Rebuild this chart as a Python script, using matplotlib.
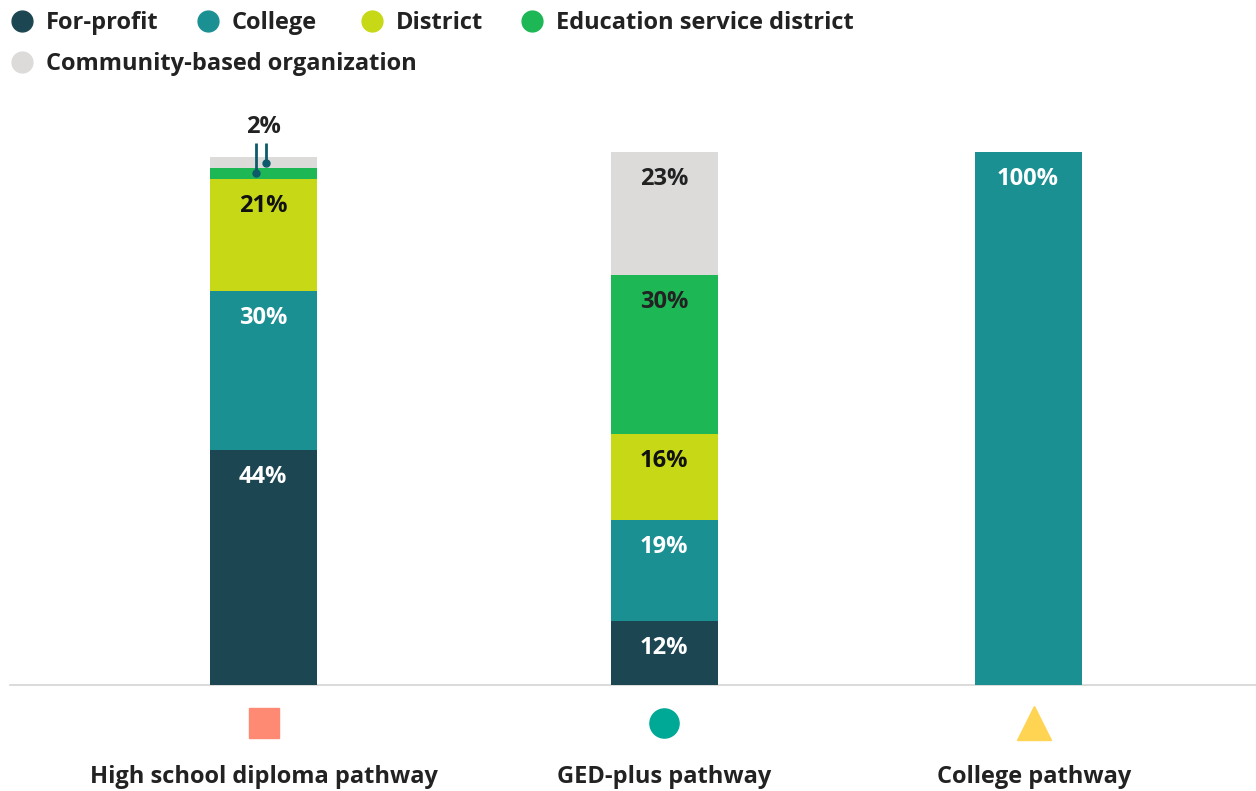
import matplotlib.pyplot as plt

plt.rcParams['font.family'] = ['Open Sans', 'DejaVu Sans']

pathways = ['High school diploma pathway', 'GED-plus pathway', 'College pathway']
providers = ['For-profit', 'College', 'District', 'Education service district',
             'Community-based organization']
shares = {
    'For-profit': [44, 12, 0],
    'College': [30, 19, 100],
    'District': [21, 16, 0],
    'Education service district': [2, 30, 0],
    'Community-based organization': [2, 23, 0],
}
colors = {
    'For-profit': '#1c4651',
    'College': '#1b9093',
    'District': '#c6d816',
    'Education service district': '#1db755',
    'Community-based organization': '#dcdbda',
}
label_colors = {
    'For-profit': 'white',
    'College': 'white',
    'District': '#111111',
    'Education service district': '#222222',
    'Community-based organization': '#222222',
}
marker_shapes = ['s', 'o', '^']
marker_colors = ['#ff8a73', '#00a896', '#ffd452']

W, H = 1256, 791
fig = plt.figure(figsize=(W / 100, H / 100), dpi=100)

def fx(px):
    return px / W

def fy(py):
    return 1 - py / H

# plot area in pixel units along x, percent along y
ax = fig.add_axes([fx(10), fy(685), fx(1246), fy(152) - fy(685)])
ax.set_xlim(10, 1256)
ax.set_ylim(0, 100)
ax.axis('off')

xpos = [263, 664, 1028]
bar_w = 107
seg_h = 5.33  # pixels per percent
text_dark = '#222222'

for i, x in enumerate(xpos):
    bottom = 0
    for p in providers:
        v = shares[p][i]
        if v == 0:
            continue
        ax.bar(x, v, bottom=bottom, width=bar_w, color=colors[p], linewidth=0)
        if v >= 5:
            ax.text(x, bottom + v - 33 / seg_h, f'{v}%', ha='center', va='baseline',
                    fontsize=17, fontweight='bold', color=label_colors[p])
        bottom += v

# small segments on the first bar get leader lines
top0 = sum(shares[p][0] for p in providers[:3])
esd_mid = top0 + shares['Education service district'][0] / 2
cbo_mid = top0 + shares['Education service district'][0] + shares['Community-based organization'][0] / 2
line_top = 101.7
for dx, ymid in [(-7, esd_mid), (3, cbo_mid)]:
    ax.plot([xpos[0] + dx, xpos[0] + dx], [ymid, line_top], color='#0e5a6b', lw=2,
            clip_on=False, solid_capstyle='butt')
    ax.plot(xpos[0] + dx, ymid, 'o', color='#0e5a6b', ms=5, clip_on=False)
ax.text(xpos[0], 103.6, f"{shares['Community-based organization'][0]}%", ha='center',
        va='baseline', fontsize=17, fontweight='bold', color=text_dark)

# baseline
ax.plot([10, 1256], [0, 0], color='#d4d4d4', lw=1.2, clip_on=False, zorder=0)

# category markers and labels
mx = [264, 664, 1034]
for i, name in enumerate(pathways):
    ms = 21 if marker_shapes[i] != '^' else 24
    fig.lines.append(plt.Line2D([fx(mx[i])], [fy(723)], marker=marker_shapes[i],
                                ms=ms, color=marker_colors[i], lw=0,
                                transform=fig.transFigure))
    fig.text(fx(mx[i]), fy(783), name, ha='center', va='baseline', fontsize=17,
             fontweight='bold', color=text_dark)

# legend
legend_pos = [(22, 21), (208, 21), (372, 21), (532, 21), (22, 62)]
for p, (lx, ly) in zip(providers, legend_pos):
    fig.lines.append(plt.Line2D([fx(lx)], [fy(ly)], marker='o', ms=15,
                                color=colors[p], lw=0, transform=fig.transFigure))
    fig.text(fx(lx + 24), fy(ly + 8), p, ha='left', va='baseline', fontsize=17,
             fontweight='bold', color=text_dark)

fig.savefig('out.png', dpi=100)
